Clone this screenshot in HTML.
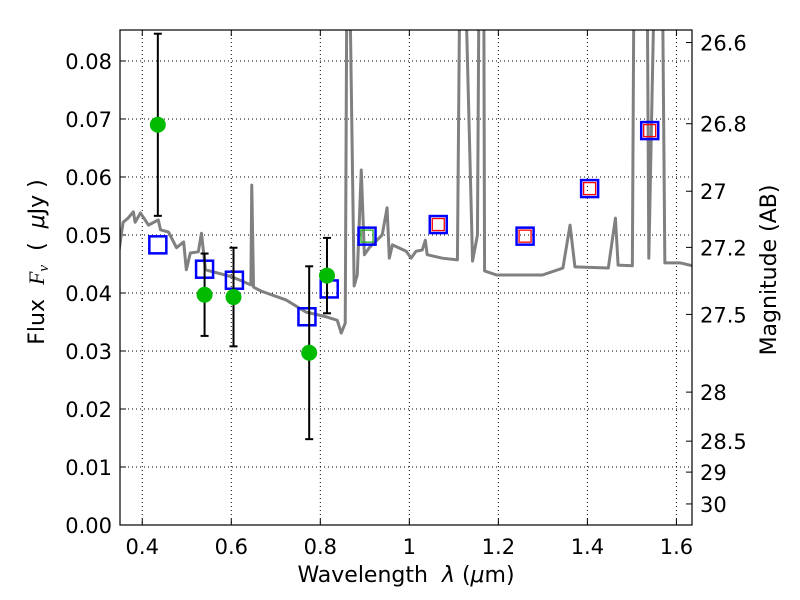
<!DOCTYPE html>
<html><head><meta charset="utf-8"><style>
body{margin:0;background:#fff}
svg{display:block;font-family:"DejaVu Sans","Liberation Sans",sans-serif}
text{white-space:pre}
</style></head><body>
<svg id="c" width="800" height="600" viewBox="0 0 800 600"></svg>
<script>
const specWl=[0.348,0.357,0.368,0.380,0.384,0.396,0.414,0.436,0.441,0.459,0.477,0.493,0.499,0.508,0.526,0.533,0.542,0.601,0.644,0.646,0.650,0.668,0.723,0.768,0.813,0.838,0.847,0.856,0.860,0.865,0.876,0.883,0.892,0.899,0.910,0.939,0.950,0.955,0.962,0.993,1.004,1.015,1.029,1.036,1.040,1.074,1.108,1.114,1.124,1.142,1.153,1.157,1.167,1.169,1.196,1.299,1.345,1.361,1.372,1.447,1.463,1.469,1.501,1.505,1.534,1.538,1.552,1.568,1.574,1.608,1.635];
const specFlux=[0.0474,0.0522,0.0529,0.0540,0.0522,0.0538,0.0517,0.0526,0.0509,0.0505,0.0478,0.0488,0.0440,0.0469,0.0471,0.0503,0.0440,0.0428,0.0414,0.0586,0.0410,0.0403,0.0388,0.0367,0.0359,0.0353,0.0331,0.0348,0.1,0.1,0.0412,0.0431,0.0612,0.0466,0.0478,0.0500,0.0547,0.0460,0.0483,0.0472,0.0460,0.0472,0.0474,0.0491,0.0466,0.0460,0.0457,0.1,0.1,0.0455,0.0500,0.1,0.1,0.0438,0.0431,0.0431,0.0443,0.0517,0.0445,0.0443,0.0529,0.0448,0.0447,0.1,0.1,0.0460,0.1,0.1,0.0452,0.0452,0.0447];
const obsWl=[0.435,0.54,0.605,0.775,0.815];
const obsFlux=[0.069,0.0397,0.0393,0.0297,0.043];
const obsErr=[0.0157,0.0071,0.0085,0.0149,0.0065];
const modWl=[0.435,0.54,0.607,0.77,0.82,0.905,1.065,1.26,1.405,1.54];
const modFlux=[0.0483,0.0441,0.0422,0.0359,0.0407,0.0498,0.0518,0.0498,0.0580,0.0680];
const innerWl=[0.905,1.065,1.26,1.405,1.54];
const innerFlux=[0.0498,0.0518,0.0498,0.0580,0.0680];
const innerColor=['#22aa22','red','red','red','red'];
const xTicks=[0.4,0.6,0.8,1.0,1.2,1.4,1.6];
const xLabels=['0.4','0.6','0.8','1','1.2','1.4','1.6'];
const yTicks=[0,0.01,0.02,0.03,0.04,0.05,0.06,0.07,0.08];
const magTicks=[26.6,26.8,27,27.2,27.5,28,28.5,29,30];
const magLabels=['26.6','26.8','27','27.2','27.5','28','28.5','29','30'];

const L=120,R=692,T=30,B=525,x0=0.35,x1=1.635,y0=0,y1=0.08534;
const X=v=>L+(v-x0)/(x1-x0)*(R-L);
const Y=v=>B-(v-y0)/(y1-y0)*(B-T);
const svg=document.getElementById('c');
const NS='http://www.w3.org/2000/svg';
function mk(t,a,p){const e=document.createElementNS(NS,t);for(const k in a)e.setAttribute(k,a[k]);(p||svg).appendChild(e);return e;}
mk('rect',{x:0,y:0,width:800,height:600,fill:'#fff'});
const defs=mk('defs',{});const cp=mk('clipPath',{id:'clip'},defs);mk('rect',{x:L,y:T,width:R-L,height:B-T},cp);
const grid=mk('g',{});


const FS=21;
xTicks.forEach((t,i)=>{const x=X(t);
 mk('line',{x1:x,x2:x,y1:T,y2:B,stroke:'#000','stroke-dasharray':'1,3','stroke-width':1},grid);
 mk('line',{x1:x,x2:x,y1:B,y2:B-6,stroke:'#000'});mk('line',{x1:x,x2:x,y1:T,y2:T+6,stroke:'#000'});
 const tx=mk('text',{x:x,y:B+29,'font-size':FS,'text-anchor':'middle'});tx.textContent=xLabels[i];
 
 
});
yTicks.forEach(t=>{const y=Y(t);
 mk('line',{x1:L,x2:R,y1:y,y2:y,stroke:'#000','stroke-dasharray':'1,3','stroke-width':1},grid);
 mk('line',{x1:L,x2:L+6,y1:y,y2:y,stroke:'#000'});
 const tx=mk('text',{x:L-8,y:y+8,'font-size':FS,'text-anchor':'end'});tx.textContent=t.toFixed(2);
 
 
});
magTicks.forEach((m,i)=>{const f=Math.pow(10,(23.9-m)/2.5);const y=Y(f);
 mk('line',{x1:R,x2:R-6,y1:y,y2:y,stroke:'#000'});
 const tx=mk('text',{x:R+8,y:y+8,'font-size':FS});tx.textContent=magLabels[i];
 
 
});
const g=mk('g',{'clip-path':'url(#clip)'});
const sp=mk('polyline',{points:specWl.map((w,i)=>X(w)+','+Y(specFlux[i])).join(' '),fill:'none',stroke:'#808080','stroke-width':3,'stroke-linejoin':'round'},g);


modWl.forEach((w,i)=>{const r=mk('rect',{x:X(w)-8.5,y:Y(modFlux[i])-8.5,width:17,height:17,fill:'none',stroke:'#0000ff','stroke-width':2.5},g);
 
 });
innerWl.forEach((w,i)=>{const r=mk('rect',{x:X(w)-6,y:Y(innerFlux[i])-6,width:12,height:12,fill:'none',stroke:innerColor[i],'stroke-width':1.3},g);
 
 });
obsWl.forEach((w,i)=>{const x=X(w),yt=Y(obsFlux[i]+obsErr[i]),yb=Y(obsFlux[i]-obsErr[i]);
 mk('line',{x1:x,x2:x,y1:yt,y2:yb,stroke:'#000','stroke-width':2},g);
 mk('line',{x1:x-4,x2:x+4,y1:yt,y2:yt,stroke:'#000','stroke-width':2},g);
 mk('line',{x1:x-4,x2:x+4,y1:yb,y2:yb,stroke:'#000','stroke-width':2},g);
 const c=mk('circle',{cx:x,cy:Y(obsFlux[i]),r:8,fill:'#00bb00'},g);
 
 });
mk('rect',{x:L,y:T,width:R-L,height:B-T,fill:'none',stroke:'#000','stroke-width':1.2});
const xl=mk('text',{x:406,y:582,'font-size':22,'text-anchor':'middle'});xl.innerHTML='Wavelength  <tspan font-style="italic">λ</tspan> (<tspan font-style="italic">μ</tspan>m)';


const yl=mk('text',{x:0,y:0,'font-size':22,'text-anchor':'middle',transform:'translate(44,262) rotate(-90)'});yl.innerHTML='Flux  <tspan font-style="italic" font-family="Liberation Serif">F<tspan font-size="15" dy="4">ν</tspan></tspan><tspan dy="-4">  (  </tspan><tspan font-style="italic">μ</tspan>Jy )';


const rl=mk('text',{x:0,y:0,'font-size':22,'text-anchor':'middle',transform:'translate(776,270) rotate(-90)'});rl.textContent='Magnitude (AB)';


</script>
</body></html>
